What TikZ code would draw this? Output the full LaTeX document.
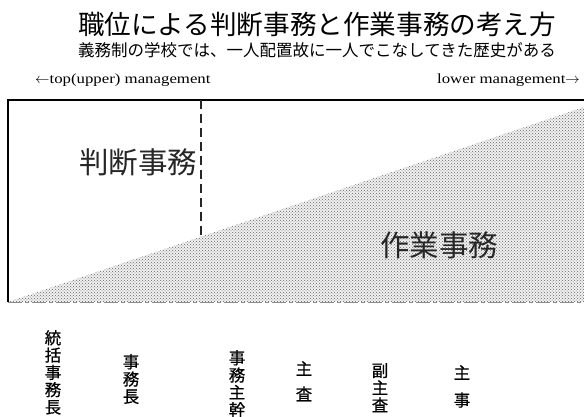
\documentclass[tikz,border=0pt]{standalone}
\usepackage{fontspec}
\setmainfont{Liberation Serif}
\newfontfamily\engw[FakeStretch=1.2]{Liberation Serif}
\newfontfamily\jp{Noto Sans CJK JP}
\newfontfamily\jpb[FakeBold=0.6]{Noto Sans CJK JP}
\usetikzlibrary{patterns}
\begin{document}
\begin{tikzpicture}[x=1pt,y=-1pt,
  title/.style={font=\jp\fontsize{26.6}{28}\selectfont, inner sep=0},
  subtitle/.style={font=\jp\fontsize{16.5}{18}\selectfont, inner sep=0},
  eng/.style={font=\engw\fontsize{14}{16}\selectfont, inner sep=0},
  area/.style={font=\jp\fontsize{29.5}{31}\selectfont, inner sep=0, text=black!85},
  vlabel/.style={font=\jpb\fontsize{16.5}{17.3}\selectfont, align=center, inner sep=0, anchor=north},
  frame/.style={line width=1.1pt, black},
  divider/.style={line width=1.1pt, dash pattern=on 9pt off 5pt, black!85},
  baseline/.style={line width=1pt, dash pattern=on 14pt off 3pt on 4pt off 3pt, black!45}]
\useasboundingbox (0,0) rectangle (584,417);
% corners
\coordinate (tl) at (8,100);
\coordinate (tr) at (584,100);
\coordinate (bl) at (8,302);
\coordinate (br) at (584,302);
\coordinate (apex) at (584,107);
\coordinate (dtop) at (201,100);
\coordinate (dbot) at (201,237);
% stippled triangle
\fill[gray!12] (bl) -- (apex) -- (br) -- cycle;
\fill[pattern=crosshatch dots, pattern color=black!60] (bl) -- (apex) -- (br) -- cycle;
% frame
\draw[frame] (tr) -- (tl) -- (bl);
\draw[baseline] (bl) -- (br);
\draw[divider] (dtop) -- (dbot);
% texts
\node[title] (t) at (317,24) {職位による判断事務と作業事務の考え方};
\node[subtitle] (s) at (317,50) {義務制の学校では、一人配置故に一人でこなしてきた歴史がある};
\node[eng, anchor=west] (up) at (35,80) {$\leftarrow$top(upper) management};
\node[eng, anchor=east] (low) at (580,80) {lower management$\rightarrow$};
\node[area] (judge) at (138,162) {判断事務};
\node[area] (work) at (439,245) {作業事務};
% positions
\node[vlabel] (p1) at (53,330) {統\\括\\事\\務\\長};
\node[vlabel] (p2) at (131,354) {事\\務\\長};
\node[vlabel] (p3) at (237,350) {事\\務\\主\\幹};
\node[vlabel] (p4) at (304,361) {主\\[8pt]査};
\node[vlabel] (p5) at (380,363) {副\\主\\査};
\node[vlabel] (p6) at (462,365) {主\\[10pt]事};
\end{tikzpicture}
\end{document}
